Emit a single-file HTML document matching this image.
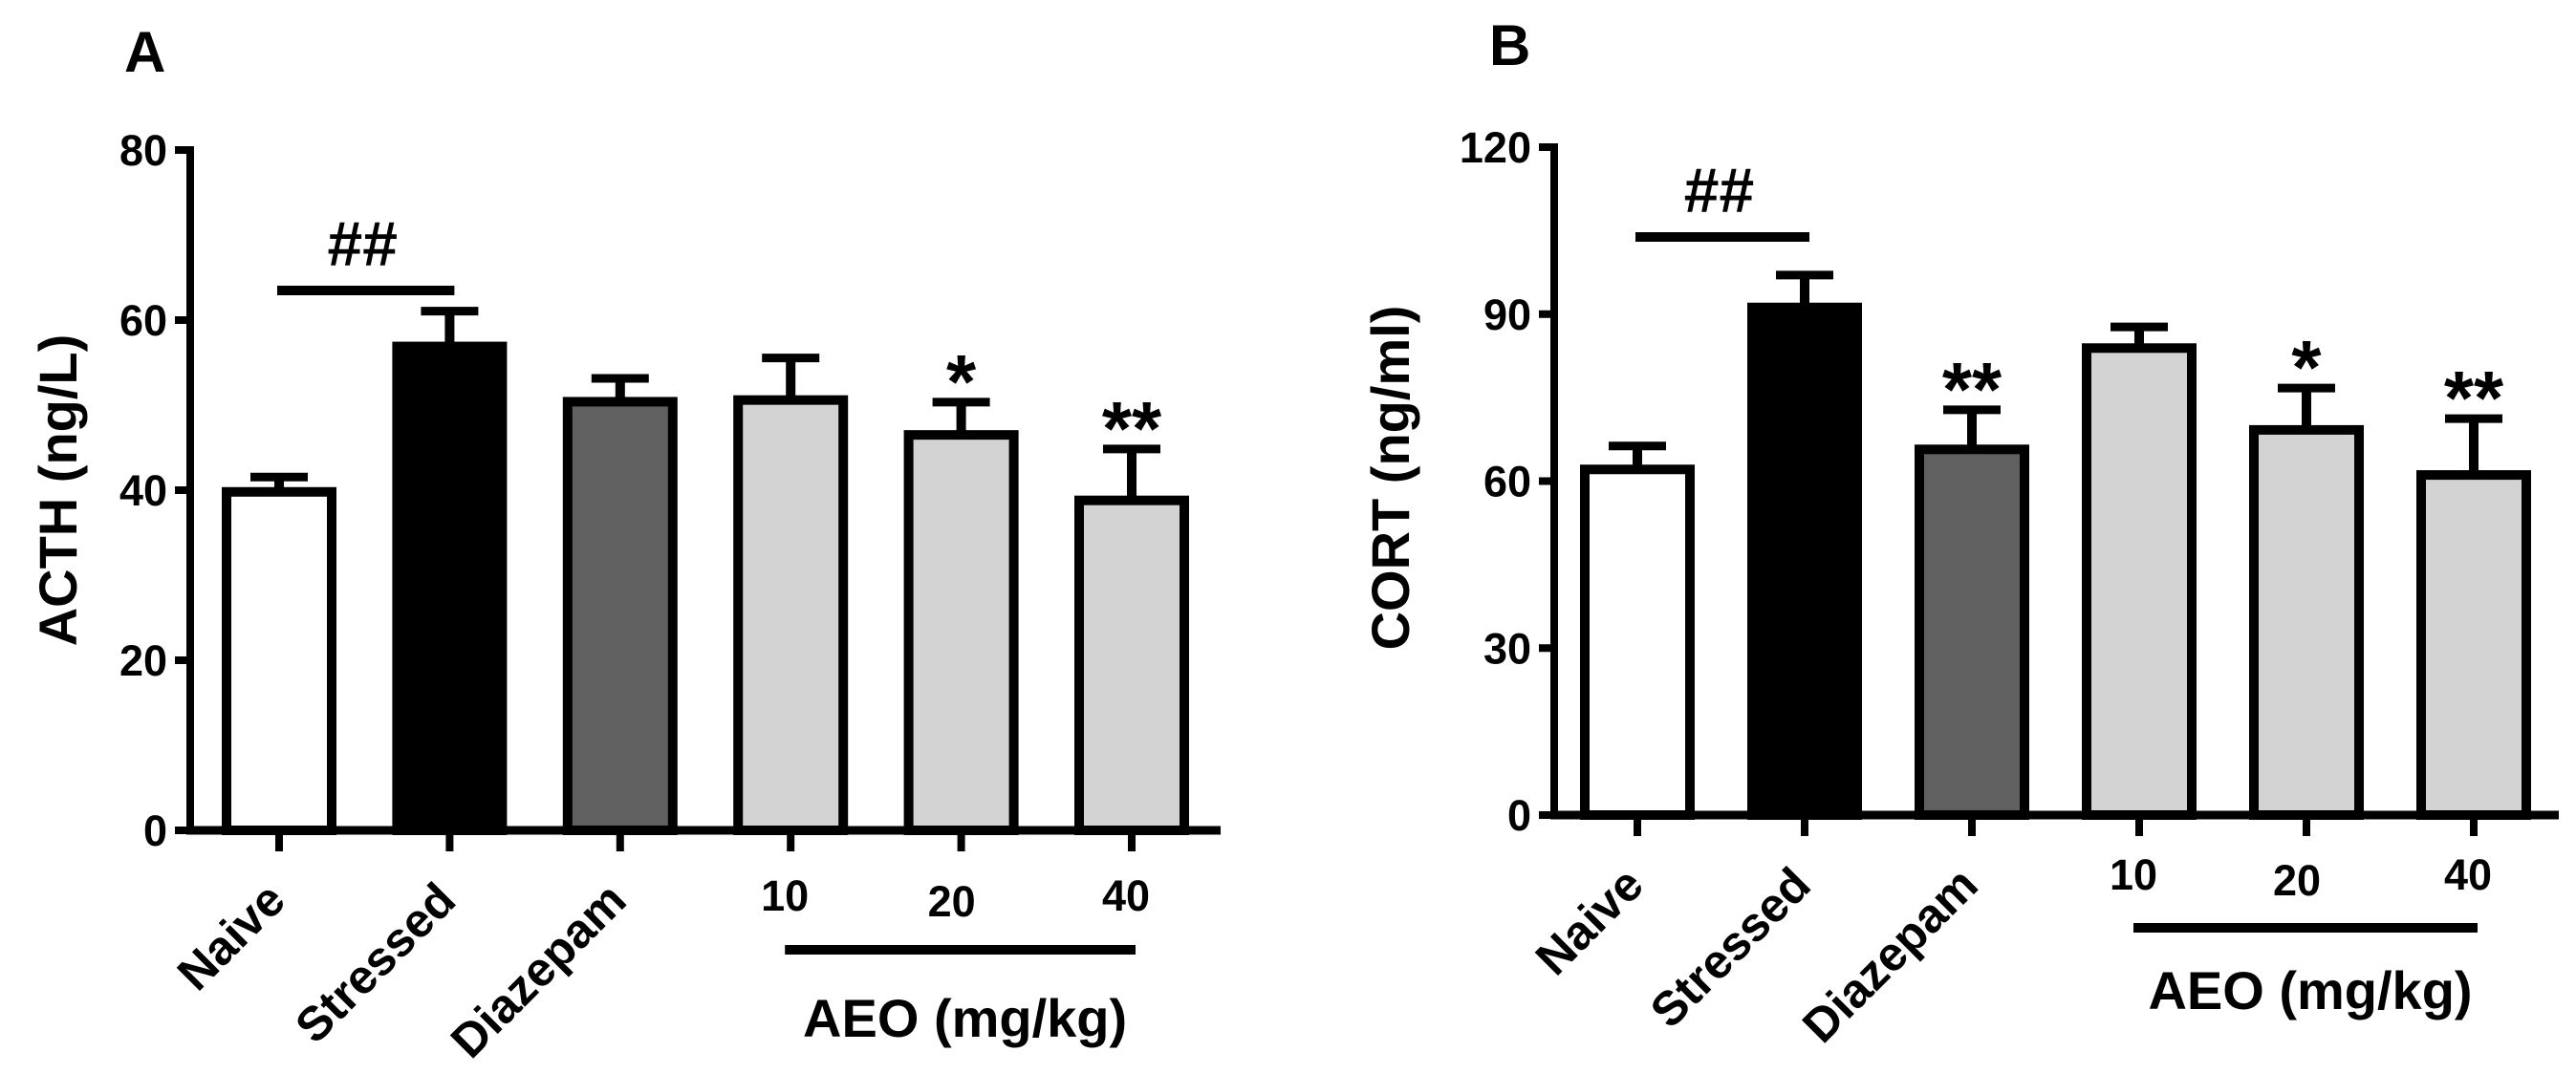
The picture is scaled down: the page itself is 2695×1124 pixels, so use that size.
<!DOCTYPE html>
<html><head><meta charset="utf-8"><style>
html,body{margin:0;padding:0;background:#fff;}
svg{display:block;font-family:"Liberation Sans",Arial,sans-serif;font-weight:bold;}
</style></head><body>
<svg id="fig" width="2695" height="1124" viewBox="0 0 2695 1124" xmlns="http://www.w3.org/2000/svg"></svg>
<script>
const categories = ["Naive","Stressed","Diazepam","10","20","40"];
const acthValues = [39.8, 56.9, 50.4, 50.6, 46.5, 38.8];
const acthErrors = [2.2, 4.6, 3.2, 5.4, 4.3, 6.5];
const acthStars = ["", "", "", "", "*", "**"];
const acthTicks = [0, 20, 40, 60, 80];
const cortValues = [62.1, 91.2, 65.7, 83.9, 69.2, 61.1];
const cortErrors = [4.9, 6.5, 7.8, 4.5, 8.2, 10.8];
const cortStars = ["", "", "**", "", "*", "**"];
const cortTicks = [0, 30, 60, 90, 120];
const fills = ["#ffffff","#000000","#606060","#d3d3d3","#d3d3d3","#d3d3d3"];

const NS = "http://www.w3.org/2000/svg";
const svg = document.getElementById("fig");
function mk(tag, attrs, parent, txt){
  const e = document.createElementNS(NS, tag);
  for (const k in attrs) e.setAttribute(k, attrs[k]);
  if (txt !== undefined) e.textContent = txt;
  (parent || svg).appendChild(e);
  return e;
}

function panel(p){
  const g = mk("g", {});
  
  
  const y = v => p.y0 - (v / p.ymax) * (p.y0 - p.ytop);
  const x = i => p.x0 + i * p.step;
  const L = mk("text", {x: p.letterX, y: p.letterY, "font-size": 60}, g, p.letter);
  
  
  const t = mk("text", {x: 0, y: 0, "font-size": 56, "text-anchor": "middle",
    transform: `translate(${p.titleX},${p.titleY}) rotate(-90)`}, g, p.title);
  
  
  p.ticks.forEach(v => {
    const tk = mk("line", {x1: p.ax - 16, x2: p.ax, y1: y(v), y2: y(v), stroke: "#000", "stroke-width": 8}, g);
    
    
    const tl = mk("text", {x: p.ax - 24, y: y(v) + 16, "font-size": 45, "text-anchor": "end"}, g, String(v));
    
    
  });
  p.values.forEach((v, i) => {
    const cx = x(i);
    const et = y(v + p.errors[i]);
    const el = mk("line", {x1: cx, x2: cx, y1: y(v), y2: et, stroke: "#000", "stroke-width": 10}, g);
    
    
    const cap = mk("line", {x1: cx - 30, x2: cx + 30, y1: et + 4, y2: et + 4, stroke: "#000", "stroke-width": 9}, g);
    
    
    const r = mk("rect", {x: cx - 55, y: y(v), width: 110, height: p.y0 - y(v), fill: fills[i], stroke: "#000", "stroke-width": 10}, g);
    
    
    if (p.stars[i]) {
      const s = mk("text", {x: cx, y: et - 18 + 28, "font-size": 80, "text-anchor": "middle"}, g, p.stars[i]);
      
      
    }
    const xt = mk("line", {x1: cx, x2: cx, y1: p.y0, y2: p.y0 + 22, stroke: "#000", "stroke-width": 8}, g);
    
    
    let lab;
    if (i < 3) {
      lab = mk("text", {x: 0, y: 0, "font-size": 50, "text-anchor": "end",
        transform: `translate(${cx + 9},${p.y0 + 76}) rotate(-45)`}, g, categories[i]);
    } else {
      lab = mk("text", {x: cx - 6 + (i === 4 ? -4 : 0), y: p.numY + (i === 4 ? 6 : 0), "font-size": 45, "text-anchor": "middle"}, g, categories[i]);
    }
    
    
  });
  const ya = mk("line", {x1: p.ax, x2: p.ax, y1: p.ytop - 4, y2: p.y0 + 4, stroke: "#000", "stroke-width": 8}, g);
  
  
  const xa = mk("line", {x1: p.ax - 4, x2: p.xend, y1: p.y0, y2: p.y0, stroke: "#000", "stroke-width": 9}, g);
  
  
  const sl = mk("line", {x1: x(0) - 2, x2: x(1) + 5, y1: p.sigY, y2: p.sigY, stroke: "#000", "stroke-width": 10}, g);
  
  
  const hh = mk("text", {x: (x(0) + x(1)) / 2 - 2, y: p.sigY - 26, "font-size": 66, "text-anchor": "middle"}, g, "##");
  
  
  const al = mk("line", {x1: x(3) - 6, x2: x(5) + 4, y1: p.aeoLineY, y2: p.aeoLineY, stroke: "#000", "stroke-width": 10}, g);
  
  
  const at = mk("text", {x: (x(3) + x(5)) / 2 + 4, y: p.aeoTextY, "font-size": 56, "text-anchor": "middle"}, g, "AEO (mg/kg)");
  
  
}

panel({name: "panel-a-acth", letter: "A", letterX: 130, letterY: 75, title: "ACTH (ng/L)", titleX: 80, titleY: 513,
  ax: 199, xend: 1277, y0: 869, ytop: 157, ymax: 80, x0: 292, step: 178.4,
  values: acthValues, errors: acthErrors, stars: acthStars, ticks: acthTicks,
  sigY: 304, numY: 953, aeoLineY: 994, aeoTextY: 1085});
panel({name: "panel-b-cort", letter: "B", letterX: 1558, letterY: 68, title: "CORT (ng/ml)", titleX: 1474, titleY: 500,
  ax: 1626, xend: 2677, y0: 853, ytop: 154, ymax: 120, x0: 1713, step: 175,
  values: cortValues, errors: cortErrors, stars: cortStars, ticks: cortTicks,
  sigY: 248, numY: 931, aeoLineY: 971, aeoTextY: 1056});
</script>
</body></html>
